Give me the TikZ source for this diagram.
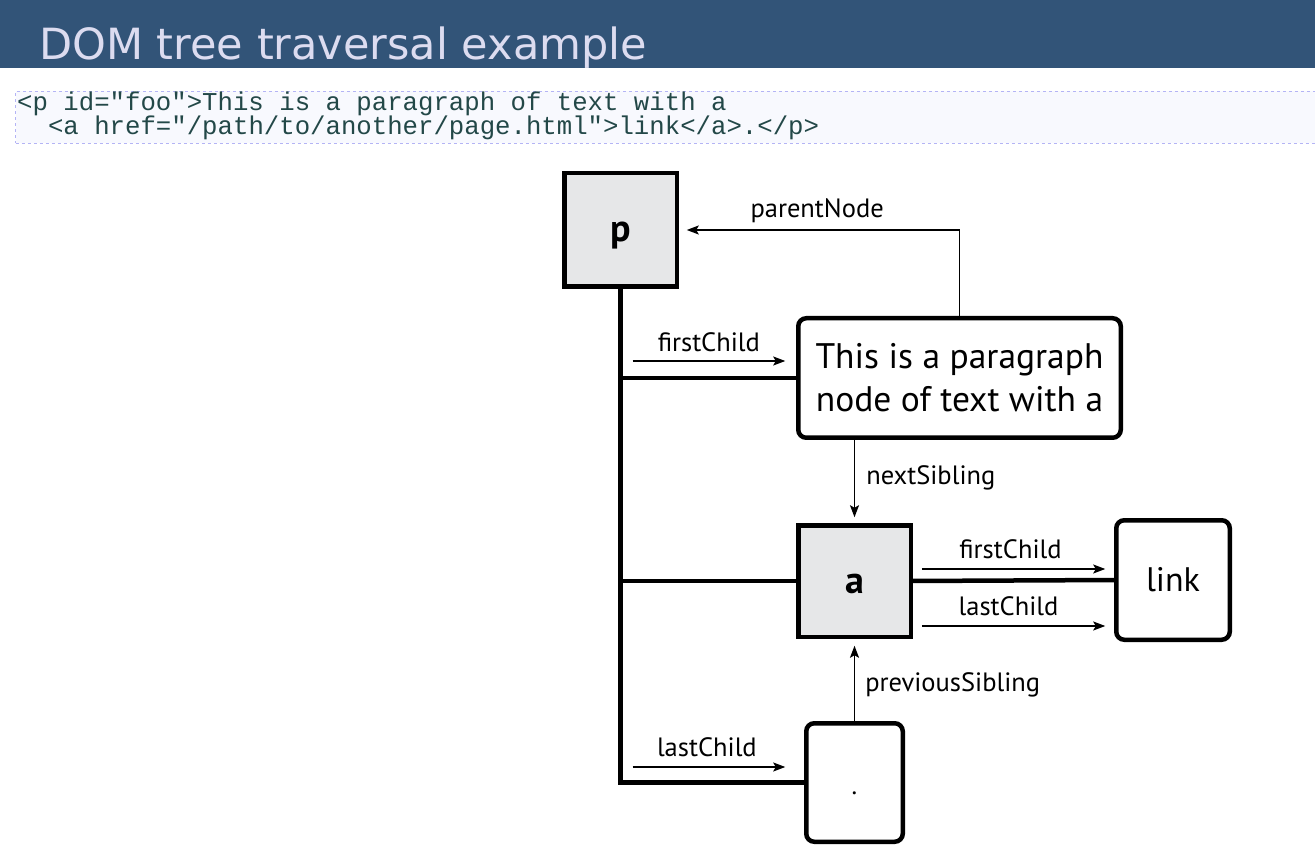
\documentclass[tikz,border=0pt]{standalone}
\usepackage{fontspec}
\setmainfont{PT Sans}
\setmonofont{Liberation Mono}
\newfontfamily\titlefont{DejaVu Sans}
\usetikzlibrary{arrows.meta}

\definecolor{barblue}{RGB}{50,84,120}
\definecolor{titletext}{RGB}{220,220,240}
\definecolor{codefill}{RGB}{248,249,254}
\definecolor{codeborder}{RGB}{180,180,245}
\definecolor{codetext}{RGB}{35,72,72}
\definecolor{boxgray}{RGB}{230,231,232}

% one full character cell of the code font
\newcommand\csp{\hspace*{0.6em}}

\begin{document}
\begin{tikzpicture}[x=1pt, y=-1pt,
    elem/.style={draw, line width=4.5pt, fill=boxgray, outer sep=0pt, inner sep=0pt,
        font=\bfseries\fontsize{38}{40}\selectfont, text height=24pt, text depth=0pt},
    txtbox/.style={draw, line width=4.5pt, rounded corners=8pt, fill=white, outer sep=0pt,
        inner sep=0pt, align=center},
    codeline/.style={anchor=base west, inner sep=0pt, text=codetext,
        font=\ttfamily\fontsize{25.7}{24}\selectfont},
    branch/.style={line width=4.5pt},
    ptr/.style={line width=1.6pt, -{Stealth[length=12pt, width=9pt, inset=2.5pt]}},
    lbl/.style={inner sep=0pt, font=\fontsize{26.5}{30}\selectfont}]
    \useasboundingbox (0,0) rectangle (1315,858);

    % Heading
    \node[fill=barblue, anchor=north west, minimum width=1315pt, minimum height=68pt,
        inner sep=0pt, outer sep=0pt] (bar) at (0,0) {};
    \node[anchor=base west, inner sep=0pt, text=titletext, font=\titlefont\fontsize{43}{50}\selectfont]
        (heading) at (39,60) {DOM tree traversal example};

    % Source markup
    \node[draw=codeborder, dashed, line width=1pt, fill=codefill, anchor=north west,
        minimum width=1320pt, minimum height=52pt] (code) at (15,91) {};
    \node[codeline] (line1) at (17,111)
        {<p\csp id="foo">This\csp is\csp a\csp paragraph\csp of\csp text\csp with\csp a};
    \node[codeline] (line2) at (17,135)
        {\csp\csp<a\csp href="/path/to/another/page.html">link</a>.</p>};

    % Tree nodes
    \node[elem, minimum width=112.5pt, minimum height=113.5pt] (p) at (620.5,230) {p};
    \node[txtbox, minimum width=322.5pt, minimum height=119.5pt,
        font=\fontsize{35.5}{43}\selectfont] (para) at (959.5,378) {This is a paragraph\\node of text with a};
    \node[elem, minimum width=112.5pt, minimum height=111.5pt] (a) at (854.5,581) {a};
    \node[txtbox, minimum width=113.5pt, minimum height=119.5pt,
        font=\fontsize{34}{40}\selectfont] (link) at (1173,580) {link};
    \node[txtbox, minimum width=96.5pt, minimum height=118.5pt,
        font=\fontsize{26}{30}\selectfont, text height=23pt, text depth=0pt] (dot) at (854.5,782.5) {.};

    % Child links
    \draw[branch, line join=miter] (p.south) -- (p.south |- dot.west) -- (dot.west);
    \draw[branch] (p.south |- para.west) -- (para.west);
    \draw[branch] (p.south |- a.west) -- (a.west);
    \draw[branch] (a.east) -- (link.west);

    % Navigation pointers
    \draw[ptr] (para.north) |- ([xshift=10pt]p.east)
        node[lbl, pos=0.75, above=6pt, xshift=-6pt] {parentNode};
    \draw[ptr] ([shift={(12pt,17pt)}]p.south |- para.west) -- ([shift={(-13pt,17pt)}]para.west)
        node[lbl, midway, above=8pt] {firstChild};
    \draw[ptr] (a.north |- para.south) -- ([yshift=8pt]a.north)
        node[lbl, midway, right=11pt] {nextSibling};
    \draw[ptr] ([shift={(11pt,12pt)}]a.east) -- ([shift={(-11pt,12pt)}]link.west |- a.east)
        node[lbl, midway, above=9pt, xshift=-3pt] {firstChild};
    \draw[ptr] ([shift={(11pt,-45pt)}]a.east) -- ([shift={(-11pt,-45pt)}]link.west |- a.east)
        node[lbl, midway, above=9pt, xshift=-5pt] {lastChild};
    \draw[ptr] (dot.north) -- ([yshift=-9pt]a.south)
        node[lbl, midway, right=10pt] {previousSibling};
    \draw[ptr] ([shift={(12pt,15.5pt)}]p.south |- dot.west) -- ([shift={(-21pt,15.5pt)}]dot.west)
        node[lbl, midway, above=9pt, xshift=-2pt] {lastChild};
\end{tikzpicture}
\end{document}
